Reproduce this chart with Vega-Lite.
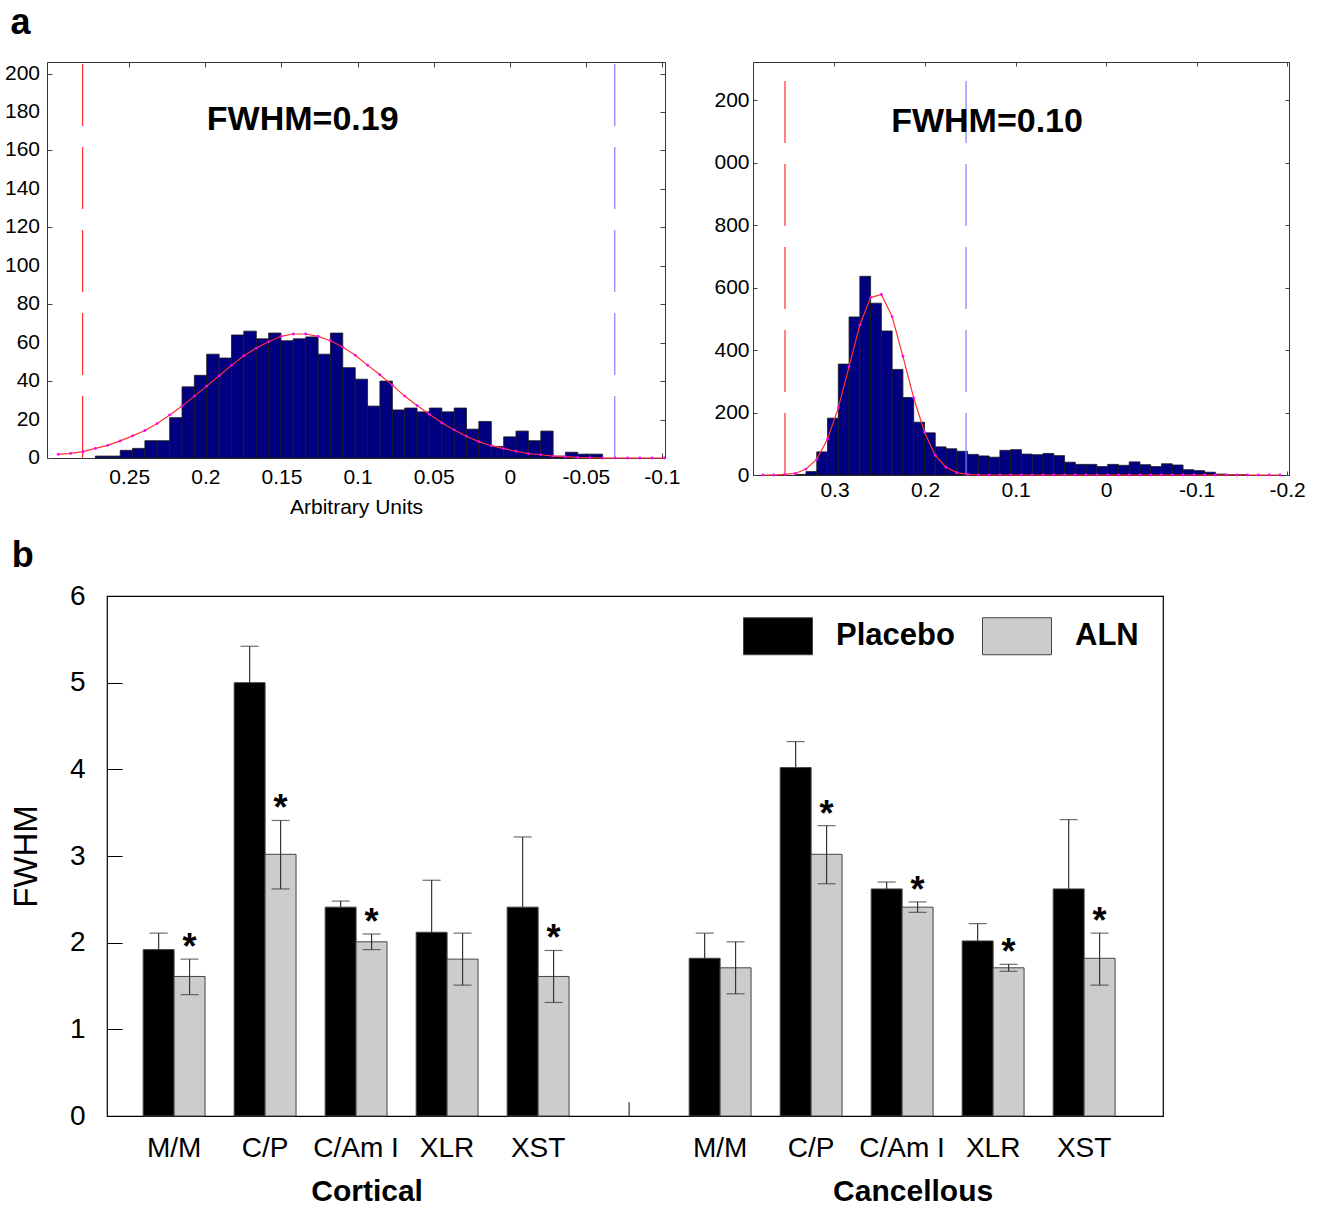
{
  "$schema": "https://vega.github.io/schema/vega-lite/v6.json",
  "padding": {"left": 4, "top": 4, "right": 5, "bottom": 5},
  "config": {
    "font": "Liberation Sans",
    "axis": {"grid": false, "domain": false, "labelColor": "black", "titleColor": "black", "labelFont": "Liberation Sans", "titleFont": "Liberation Sans", "labelOverlap": false},
    "title": {"font": "Liberation Sans", "color": "black"}
  },
  "datasets": {
    "histA": [
      {"lo": 0.2722, "hi": 0.2641, "count": 1}, {"lo": 0.2641, "hi": 0.2559, "count": 1},
      {"lo": 0.2559, "hi": 0.2478, "count": 4}, {"lo": 0.2478, "hi": 0.2397, "count": 5},
      {"lo": 0.2397, "hi": 0.2316, "count": 9}, {"lo": 0.2316, "hi": 0.2234, "count": 9},
      {"lo": 0.2234, "hi": 0.2153, "count": 21}, {"lo": 0.2153, "hi": 0.2072, "count": 37},
      {"lo": 0.2072, "hi": 0.1991, "count": 43}, {"lo": 0.1991, "hi": 0.1909, "count": 54},
      {"lo": 0.1909, "hi": 0.1828, "count": 52}, {"lo": 0.1828, "hi": 0.1747, "count": 64},
      {"lo": 0.1747, "hi": 0.1665, "count": 66}, {"lo": 0.1665, "hi": 0.1584, "count": 62},
      {"lo": 0.1584, "hi": 0.1503, "count": 65}, {"lo": 0.1503, "hi": 0.1422, "count": 61},
      {"lo": 0.1422, "hi": 0.1340, "count": 62}, {"lo": 0.1340, "hi": 0.1259, "count": 63},
      {"lo": 0.1259, "hi": 0.1178, "count": 54}, {"lo": 0.1178, "hi": 0.1097, "count": 65},
      {"lo": 0.1097, "hi": 0.1015, "count": 47}, {"lo": 0.1015, "hi": 0.0934, "count": 41},
      {"lo": 0.0934, "hi": 0.0853, "count": 27}, {"lo": 0.0853, "hi": 0.0771, "count": 40},
      {"lo": 0.0771, "hi": 0.0690, "count": 25}, {"lo": 0.0690, "hi": 0.0609, "count": 26},
      {"lo": 0.0609, "hi": 0.0528, "count": 24}, {"lo": 0.0528, "hi": 0.0446, "count": 26},
      {"lo": 0.0446, "hi": 0.0365, "count": 24}, {"lo": 0.0365, "hi": 0.0284, "count": 26},
      {"lo": 0.0284, "hi": 0.0203, "count": 15}, {"lo": 0.0203, "hi": 0.0121, "count": 19},
      {"lo": 0.0121, "hi": 0.0040, "count": 6}, {"lo": 0.0040, "hi": -0.0041, "count": 11},
      {"lo": -0.0041, "hi": -0.0122, "count": 14}, {"lo": -0.0122, "hi": -0.0204, "count": 9},
      {"lo": -0.0204, "hi": -0.0285, "count": 14}, {"lo": -0.0285, "hi": -0.0366, "count": 1},
      {"lo": -0.0366, "hi": -0.0447, "count": 3}, {"lo": -0.0447, "hi": -0.0529, "count": 2},
      {"lo": -0.0529, "hi": -0.0610, "count": 2}
    ],
    "curveA": [
      {"x": 0.2966, "y": 1.9}, {"x": 0.2885, "y": 2.4}, {"x": 0.2803, "y": 3.3}, {"x": 0.2722, "y": 5.0},
      {"x": 0.2641, "y": 6.6}, {"x": 0.2559, "y": 8.9}, {"x": 0.2478, "y": 11.5}, {"x": 0.2397, "y": 14.3},
      {"x": 0.2316, "y": 17.9}, {"x": 0.2234, "y": 22.4}, {"x": 0.2153, "y": 27.0}, {"x": 0.2072, "y": 32.2},
      {"x": 0.1991, "y": 37.4}, {"x": 0.1909, "y": 42.8}, {"x": 0.1828, "y": 48.2}, {"x": 0.1747, "y": 53.2},
      {"x": 0.1665, "y": 57.2}, {"x": 0.1584, "y": 60.5}, {"x": 0.1503, "y": 63.3}, {"x": 0.1422, "y": 64.5},
      {"x": 0.1340, "y": 64.5}, {"x": 0.1259, "y": 63.3}, {"x": 0.1178, "y": 61.0}, {"x": 0.1097, "y": 57.7},
      {"x": 0.1015, "y": 53.4}, {"x": 0.0934, "y": 48.3}, {"x": 0.0853, "y": 43.3}, {"x": 0.0771, "y": 37.9},
      {"x": 0.0690, "y": 32.2}, {"x": 0.0609, "y": 27.3}, {"x": 0.0528, "y": 22.8}, {"x": 0.0446, "y": 18.3},
      {"x": 0.0365, "y": 14.6}, {"x": 0.0284, "y": 11.3}, {"x": 0.0203, "y": 8.5}, {"x": 0.0121, "y": 6.4},
      {"x": 0.0040, "y": 4.9}, {"x": -0.0041, "y": 3.5}, {"x": -0.0122, "y": 2.3}, {"x": -0.0204, "y": 1.7},
      {"x": -0.0285, "y": 1.0}, {"x": -0.0366, "y": 0.7}, {"x": -0.0447, "y": 0.3}, {"x": -0.0529, "y": 0.2},
      {"x": -0.0610, "y": 0}, {"x": -0.0691, "y": 0}, {"x": -0.0773, "y": 0}, {"x": -0.0854, "y": 0},
      {"x": -0.0935, "y": 0}, {"x": -0.1016, "y": 0}
    ],
    "vlinesA": [{"x": 0.2806, "kind": "lower"}, {"x": -0.069, "kind": "upper"}],
    "labelA": [{"x": 0.136, "y": 176, "label": "FWHM=0.19"}],
    "yticksA": [{"v": 0}, {"v": 20}, {"v": 40}, {"v": 60}, {"v": 80}, {"v": 100}, {"v": 120}, {"v": 140}, {"v": 160}, {"v": 180}, {"v": 200}],
    "histB": [
      {"lo": 0.3434, "hi": 0.3315, "count": 2}, {"lo": 0.3315, "hi": 0.3196, "count": 11},
      {"lo": 0.3196, "hi": 0.3077, "count": 74}, {"lo": 0.3077, "hi": 0.2958, "count": 182},
      {"lo": 0.2958, "hi": 0.2839, "count": 355}, {"lo": 0.2839, "hi": 0.2720, "count": 506},
      {"lo": 0.2720, "hi": 0.2601, "count": 636}, {"lo": 0.2601, "hi": 0.2482, "count": 550},
      {"lo": 0.2482, "hi": 0.2363, "count": 461}, {"lo": 0.2363, "hi": 0.2244, "count": 338},
      {"lo": 0.2244, "hi": 0.2125, "count": 248}, {"lo": 0.2125, "hi": 0.2006, "count": 169},
      {"lo": 0.2006, "hi": 0.1887, "count": 135}, {"lo": 0.1887, "hi": 0.1768, "count": 90},
      {"lo": 0.1768, "hi": 0.1649, "count": 84}, {"lo": 0.1649, "hi": 0.1530, "count": 76},
      {"lo": 0.1530, "hi": 0.1411, "count": 66}, {"lo": 0.1411, "hi": 0.1292, "count": 61},
      {"lo": 0.1292, "hi": 0.1173, "count": 57}, {"lo": 0.1173, "hi": 0.1054, "count": 79},
      {"lo": 0.1054, "hi": 0.0935, "count": 81}, {"lo": 0.0935, "hi": 0.0816, "count": 67},
      {"lo": 0.0816, "hi": 0.0697, "count": 65}, {"lo": 0.0697, "hi": 0.0578, "count": 69},
      {"lo": 0.0578, "hi": 0.0459, "count": 62}, {"lo": 0.0459, "hi": 0.0340, "count": 41},
      {"lo": 0.0340, "hi": 0.0221, "count": 34}, {"lo": 0.0221, "hi": 0.0102, "count": 34},
      {"lo": 0.0102, "hi": -0.0017, "count": 27}, {"lo": -0.0017, "hi": -0.0136, "count": 34},
      {"lo": -0.0136, "hi": -0.0255, "count": 31}, {"lo": -0.0255, "hi": -0.0374, "count": 42},
      {"lo": -0.0374, "hi": -0.0493, "count": 33}, {"lo": -0.0493, "hi": -0.0612, "count": 27},
      {"lo": -0.0612, "hi": -0.0731, "count": 36}, {"lo": -0.0731, "hi": -0.0850, "count": 32},
      {"lo": -0.0850, "hi": -0.0969, "count": 17}, {"lo": -0.0969, "hi": -0.1088, "count": 14},
      {"lo": -0.1088, "hi": -0.1207, "count": 9}, {"lo": -0.1207, "hi": -0.1326, "count": 3},
      {"lo": -0.1326, "hi": -0.1445, "count": 1}, {"lo": -0.1445, "hi": -0.1564, "count": 1}
    ],
    "curveB": [
      {"x": 0.3791, "y": 0}, {"x": 0.3672, "y": 0}, {"x": 0.3553, "y": 2}, {"x": 0.3434, "y": 5},
      {"x": 0.3315, "y": 19}, {"x": 0.3196, "y": 50}, {"x": 0.3077, "y": 115}, {"x": 0.2958, "y": 215},
      {"x": 0.2839, "y": 347}, {"x": 0.2720, "y": 480}, {"x": 0.2601, "y": 568}, {"x": 0.2482, "y": 578},
      {"x": 0.2363, "y": 507}, {"x": 0.2244, "y": 380}, {"x": 0.2125, "y": 247}, {"x": 0.2006, "y": 137},
      {"x": 0.1887, "y": 63}, {"x": 0.1768, "y": 25}, {"x": 0.1649, "y": 7.5}, {"x": 0.1530, "y": 2},
      {"x": 0.1411, "y": 0}, {"x": 0.1292, "y": 0}, {"x": 0.1173, "y": 0}, {"x": 0.1054, "y": 0},
      {"x": 0.0935, "y": 0}, {"x": 0.0816, "y": 0}, {"x": 0.0697, "y": 0}, {"x": 0.0578, "y": 0},
      {"x": 0.0459, "y": 0}, {"x": 0.0340, "y": 0}, {"x": 0.0221, "y": 0}, {"x": 0.0102, "y": 0},
      {"x": -0.0017, "y": 0}, {"x": -0.0136, "y": 0}, {"x": -0.0255, "y": 0}, {"x": -0.0374, "y": 0},
      {"x": -0.0493, "y": 0}, {"x": -0.0612, "y": 0}, {"x": -0.0731, "y": 0}, {"x": -0.0850, "y": 0},
      {"x": -0.0969, "y": 0}, {"x": -0.1088, "y": 0}, {"x": -0.1207, "y": 0}, {"x": -0.1326, "y": 0},
      {"x": -0.1445, "y": 0}, {"x": -0.1564, "y": 0}, {"x": -0.1683, "y": 0}, {"x": -0.1802, "y": 0},
      {"x": -0.1921, "y": 0}
    ],
    "vlinesB": [{"x": 0.3547, "kind": "lower"}, {"x": 0.1547, "kind": "upper"}],
    "labelB": [{"x": 0.1315, "y": 1130, "label": "FWHM=0.10"}],
    "bars": [
      {"cat": "Cortical:M/M", "group": "Placebo", "value": 1.92, "lo": 1.92, "hi": 2.11, "sig": false},
      {"cat": "Cortical:M/M", "group": "ALN", "value": 1.61, "lo": 1.40, "hi": 1.81, "sig": true},
      {"cat": "Cortical:C/P", "group": "Placebo", "value": 5.0, "lo": 5.0, "hi": 5.42, "sig": false},
      {"cat": "Cortical:C/P", "group": "ALN", "value": 3.02, "lo": 2.62, "hi": 3.41, "sig": true},
      {"cat": "Cortical:C/Am I", "group": "Placebo", "value": 2.41, "lo": 2.41, "hi": 2.48, "sig": false},
      {"cat": "Cortical:C/Am I", "group": "ALN", "value": 2.01, "lo": 1.92, "hi": 2.10, "sig": true},
      {"cat": "Cortical:XLR", "group": "Placebo", "value": 2.12, "lo": 2.12, "hi": 2.72, "sig": false},
      {"cat": "Cortical:XLR", "group": "ALN", "value": 1.81, "lo": 1.51, "hi": 2.11, "sig": false},
      {"cat": "Cortical:XST", "group": "Placebo", "value": 2.41, "lo": 2.41, "hi": 3.22, "sig": false},
      {"cat": "Cortical:XST", "group": "ALN", "value": 1.61, "lo": 1.31, "hi": 1.91, "sig": true},
      {"cat": "Cancellous:M/M", "group": "Placebo", "value": 1.82, "lo": 1.82, "hi": 2.11, "sig": false},
      {"cat": "Cancellous:M/M", "group": "ALN", "value": 1.71, "lo": 1.41, "hi": 2.01, "sig": false},
      {"cat": "Cancellous:C/P", "group": "Placebo", "value": 4.02, "lo": 4.02, "hi": 4.32, "sig": false},
      {"cat": "Cancellous:C/P", "group": "ALN", "value": 3.02, "lo": 2.68, "hi": 3.35, "sig": true},
      {"cat": "Cancellous:C/Am I", "group": "Placebo", "value": 2.62, "lo": 2.62, "hi": 2.70, "sig": false},
      {"cat": "Cancellous:C/Am I", "group": "ALN", "value": 2.41, "lo": 2.35, "hi": 2.47, "sig": true},
      {"cat": "Cancellous:XLR", "group": "Placebo", "value": 2.02, "lo": 2.02, "hi": 2.22, "sig": false},
      {"cat": "Cancellous:XLR", "group": "ALN", "value": 1.71, "lo": 1.67, "hi": 1.75, "sig": true},
      {"cat": "Cancellous:XST", "group": "Placebo", "value": 2.62, "lo": 2.62, "hi": 3.42, "sig": false},
      {"cat": "Cancellous:XST", "group": "ALN", "value": 1.82, "lo": 1.51, "hi": 2.11, "sig": true}
    ],
    "groups": [
      {"cat": "Cortical:C/Am I", "label": "Cortical"},
      {"cat": "Cancellous:C/Am I", "label": "Cancellous"}
    ],
    "gapmark": [{"cat": "gap", "y0": 0, "y1": 0.16}],
    "blank": [{"k": 0}]
  },
  "resolve": {"legend": {"fill": "independent", "stroke": "independent"}},
  "spacing": 20,
  "vconcat": [
    {
      "title": {"text": "a", "anchor": "start", "frame": "bounds", "fontSize": 36, "fontWeight": "bold", "dx": 6, "offset": 19},
      "spacing": 32,
      "hconcat": [
        {
          "width": 618,
          "height": 396,
          "view": {"stroke": "#333", "strokeWidth": 1},
          "resolve": {"axis": {"x": "independent", "y": "independent"}},
          "layer": [
            {
              "layer": [
                {
                  "data": {"name": "histA"},
                  "mark": {"type": "bar", "fill": "#000080", "stroke": "#1a1a1a", "strokeWidth": 0.8},
                  "encoding": {
                    "x": {"field": "lo", "type": "quantitative",
                      "scale": {"domain": [0.304, -0.102], "nice": false, "zero": false},
                      "axis": {"values": [0.25, 0.2, 0.15, 0.1, 0.05, 0, -0.05, -0.1], "labelOverlap": false,
                        "labelExpr": "replace(format(datum.value, '~g'), '\u2212', '-')",
                        "title": "Arbitrary Units", "titleFontSize": 21, "titleFontWeight": "normal", "titlePadding": 9,
                        "labelFontSize": 21, "tickSize": -5, "labelPadding": 13, "tickColor": "#444"}},
                    "x2": {"field": "hi"},
                    "y": {"field": "count", "type": "quantitative",
                      "scale": {"domain": [0, 206], "nice": false},
                      "axis": {"values": [0, 20, 40, 60, 80, 100, 120, 140, 160, 180, 200], "title": null, "labels": false,
                        "tickSize": -5, "tickColor": "#444"}},
                    "y2": {"datum": 0}
                  }
                },
                {
                  "data": {"name": "yticksA"},
                  "mark": {"type": "text", "align": "right", "baseline": "middle", "fontSize": 21, "dx": -7, "color": "black"},
                  "encoding": {
                    "x": {"datum": 0.304, "type": "quantitative"},
                    "y": {"field": "v", "type": "quantitative"},
                    "text": {"field": "v", "type": "quantitative", "format": "d"}
                  }
                },
                {
                  "data": {"name": "vlinesA"},
                  "mark": {"type": "rule", "strokeDash": [62, 21], "strokeDashOffset": 81, "strokeWidth": 1.2},
                  "encoding": {
                    "x": {"field": "x", "type": "quantitative"},
                    "stroke": {"field": "kind", "type": "nominal", "scale": {"domain": ["lower", "upper"], "range": ["#ff3030", "#8080ff"]}, "legend": null}
                  }
                },
                {
                  "data": {"name": "curveA"},
                  "mark": {"type": "line", "color": "#ff3030", "strokeWidth": 1.2},
                  "encoding": {"x": {"field": "x", "type": "quantitative"}, "y": {"field": "y", "type": "quantitative"}}
                },
                {
                  "data": {"name": "curveA"},
                  "mark": {"type": "point", "filled": true, "color": "#ff00ff", "size": 8, "opacity": 1},
                  "encoding": {"x": {"field": "x", "type": "quantitative"}, "y": {"field": "y", "type": "quantitative"}}
                },
                {
                  "data": {"name": "labelA"},
                  "mark": {"type": "text", "fontSize": 34, "fontWeight": "bold", "color": "black"},
                  "encoding": {"x": {"field": "x", "type": "quantitative"}, "y": {"field": "y", "type": "quantitative"}, "text": {"field": "label"}}
                }
              ]
            },
            {
              "data": {"name": "histA"},
              "mark": {"type": "point", "opacity": 0},
              "encoding": {
                "x": {"field": "lo", "type": "quantitative", "axis": {"orient": "top", "values": [0.25, 0.2, 0.15, 0.1, 0.05, 0, -0.05, -0.1], "labels": false, "title": null, "tickSize": -5, "tickColor": "#444"}},
                "y": {"field": "count", "type": "quantitative", "axis": {"orient": "right", "values": [0, 20, 40, 60, 80, 100, 120, 140, 160, 180, 200], "labels": false, "title": null, "tickSize": -5, "tickColor": "#444"}}
              }
            }
          ]
        },
        {
          "width": 536,
          "height": 413,
          "view": {"stroke": "#333", "strokeWidth": 1},
          "resolve": {"axis": {"x": "independent", "y": "independent"}},
          "layer": [
            {
              "layer": [
                {
                  "data": {"name": "histB"},
                  "mark": {"type": "bar", "fill": "#000080", "stroke": "#1a1a1a", "strokeWidth": 0.8},
                  "encoding": {
                    "x": {"field": "lo", "type": "quantitative",
                      "scale": {"domain": [0.39, -0.202], "nice": false, "zero": false},
                      "axis": {"values": [0.3, 0.2, 0.1, 0, -0.1, -0.2], "labelOverlap": false,
                        "labelExpr": "replace(format(datum.value, '~g'), '\u2212', '-')",
                        "title": null, "labelFontSize": 21, "tickSize": -4, "labelPadding": 8, "tickColor": "#444"}},
                    "x2": {"field": "hi"},
                    "y": {"field": "count", "type": "quantitative",
                      "scale": {"domain": [0, 1322], "nice": false},
                      "axis": {"values": [0, 200, 400, 600, 800, 1000, 1200], "title": null, "labelOverlap": false,
                        "labelExpr": "datum.value == 1200 ? '200' : datum.value == 1000 ? '000' : datum.label",
                        "labelFontSize": 21, "tickSize": -4, "labelPadding": 8, "tickColor": "#444"}},
                    "y2": {"datum": 0}
                  }
                },
                {
                  "data": {"name": "vlinesB"},
                  "mark": {"type": "rule", "strokeDash": [62, 21], "strokeDashOffset": 64, "strokeWidth": 1.2},
                  "encoding": {
                    "x": {"field": "x", "type": "quantitative"},
                    "stroke": {"field": "kind", "type": "nominal", "scale": {"domain": ["lower", "upper"], "range": ["#ff3030", "#8080ff"]}, "legend": null}
                  }
                },
                {
                  "data": {"name": "curveB"},
                  "mark": {"type": "line", "color": "#ff3030", "strokeWidth": 1.2},
                  "encoding": {"x": {"field": "x", "type": "quantitative"}, "y": {"field": "y", "type": "quantitative"}}
                },
                {
                  "data": {"name": "curveB"},
                  "mark": {"type": "point", "filled": true, "color": "#ff00ff", "size": 8, "opacity": 1},
                  "encoding": {"x": {"field": "x", "type": "quantitative"}, "y": {"field": "y", "type": "quantitative"}}
                },
                {
                  "data": {"name": "labelB"},
                  "mark": {"type": "text", "fontSize": 34, "fontWeight": "bold", "color": "black"},
                  "encoding": {"x": {"field": "x", "type": "quantitative"}, "y": {"field": "y", "type": "quantitative"}, "text": {"field": "label"}}
                }
              ]
            },
            {
              "data": {"name": "histB"},
              "mark": {"type": "point", "opacity": 0},
              "encoding": {
                "x": {"field": "lo", "type": "quantitative", "axis": {"orient": "top", "values": [0.3, 0.2, 0.1, 0, -0.1, -0.2], "labels": false, "title": null, "tickSize": -4, "tickColor": "#444"}},
                "y": {"field": "count", "type": "quantitative", "axis": {"orient": "right", "values": [0, 200, 400, 600, 800, 1000, 1200], "labels": false, "title": null, "tickSize": -4, "tickColor": "#444"}}
              }
            }
          ]
        }
      ]
    },
    {
      "title": {"text": "b", "anchor": "start", "frame": "bounds", "fontSize": 36, "fontWeight": "bold", "dx": 2, "offset": 6},
      "bounds": "flush",
      "spacing": 0,
      "resolve": {"legend": {"fill": "independent"}},
      "hconcat": [
        {
          "width": 60,
          "height": 520,
          "view": {"stroke": null},
          "data": {"name": "blank"},
          "mark": {"type": "point", "opacity": 0},
          "encoding": {}
        },
        {
          "width": 1056,
          "height": 520,
          "view": {"stroke": "black", "strokeWidth": 1.2},
          "layer": [
            {
              "data": {"name": "bars"},
              "mark": {"type": "bar", "stroke": "#444", "strokeWidth": 1},
              "encoding": {
                "x": {"field": "cat", "type": "nominal",
                  "scale": {"domain": ["Cortical:M/M", "Cortical:C/P", "Cortical:C/Am I", "Cortical:XLR", "Cortical:XST", "gap", "Cancellous:M/M", "Cancellous:C/P", "Cancellous:C/Am I", "Cancellous:XLR", "Cancellous:XST"],
                    "paddingInner": 0.32, "paddingOuter": 0.462, "align": 0.43},
                  "axis": {"title": null, "ticks": false, "labelAngle": 0, "labelFontSize": 28, "labelPadding": 18,
                    "labelExpr": "indexof(datum.label, ':') >= 0 ? split(datum.label, ':')[1] : ''"}},
                "xOffset": {"field": "group", "type": "nominal", "scale": {"domain": ["Placebo", "ALN"], "paddingInner": 0, "paddingOuter": 0}},
                "y": {"field": "value", "type": "quantitative",
                  "scale": {"domain": [0, 6], "nice": false},
                  "axis": {"title": "FWHM", "titleFontSize": 33, "titleFontWeight": "normal", "titlePadding": 26, "format": "d",
                    "values": [0, 1, 2, 3, 4, 5, 6], "labelFontSize": 28, "tickSize": -15, "labelPadding": 37, "tickColor": "black"}},
                "fill": {"field": "group", "type": "nominal", "scale": {"domain": ["Placebo", "ALN"], "range": ["#000000", "#cccccc"]},
                  "legend": {"title": null, "orient": "none", "legendX": 636, "legendY": 5, "direction": "horizontal",
                    "symbolType": "M-1,-0.536H1V0.536H-1Z", "symbolSize": 4761, "symbolStrokeColor": "#444", "symbolStrokeWidth": 1,
                    "labelFontSize": 31, "labelFontWeight": "bold", "labelOffset": 23, "columnPadding": 25, "labelLimit": 300, "labelColor": "black"}}
              }
            },
            {
              "data": {"name": "bars"},
              "mark": {"type": "rule", "color": "#333", "strokeWidth": 1.2},
              "encoding": {
                "x": {"field": "cat", "type": "nominal"},
                "xOffset": {"field": "group", "type": "nominal"},
                "y": {"field": "lo", "type": "quantitative"},
                "y2": {"field": "hi"}
              }
            },
            {
              "data": {"name": "bars"},
              "mark": {"type": "tick", "color": "#333", "size": 18, "thickness": 1.2, "orient": "horizontal"},
              "encoding": {
                "x": {"field": "cat", "type": "nominal"},
                "xOffset": {"field": "group", "type": "nominal"},
                "y": {"field": "hi", "type": "quantitative"}
              }
            },
            {
              "data": {"name": "bars"},
              "transform": [{"filter": "datum.group == 'ALN'"}],
              "mark": {"type": "tick", "color": "#333", "size": 18, "thickness": 1.2, "orient": "horizontal"},
              "encoding": {
                "x": {"field": "cat", "type": "nominal"},
                "xOffset": {"field": "group", "type": "nominal"},
                "y": {"field": "lo", "type": "quantitative"}
              }
            },
            {
              "data": {"name": "bars"},
              "transform": [{"filter": "datum.sig"}],
              "mark": {"type": "text", "text": "*", "fontSize": 36, "fontWeight": "bold", "baseline": "alphabetic", "dy": 0, "color": "black"},
              "encoding": {
                "x": {"field": "cat", "type": "nominal"},
                "xOffset": {"field": "group", "type": "nominal"},
                "y": {"field": "hi", "type": "quantitative"}
              }
            },
            {
              "data": {"name": "groups"},
              "mark": {"type": "text", "fontSize": 30, "fontWeight": "bold", "baseline": "alphabetic", "dy": 85, "dx": 11, "color": "black"},
              "encoding": {
                "x": {"field": "cat", "type": "nominal"},
                "y": {"datum": 0, "type": "quantitative"},
                "text": {"field": "label"}
              }
            },
            {
              "data": {"name": "gapmark"},
              "mark": {"type": "rule", "color": "#333", "strokeWidth": 1.2},
              "encoding": {
                "x": {"field": "cat", "type": "nominal"},
                "y": {"field": "y0", "type": "quantitative"},
                "y2": {"field": "y1"}
              }
            }
          ]
        }
      ]
    }
  ]
}
